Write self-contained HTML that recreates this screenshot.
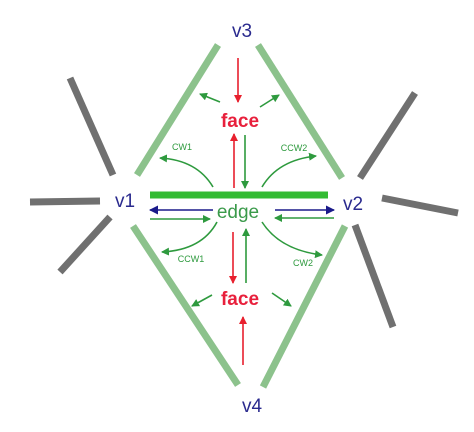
<!DOCTYPE html>
<html><head><meta charset="utf-8"><style>
html,body{margin:0;padding:0;background:#fff}
svg{display:block}
text{font-family:"Liberation Sans","DejaVu Sans",sans-serif}
</style></head><body>
<svg width="474" height="432" viewBox="0 0 474 432">
<defs>
<marker id="ag" markerWidth="8" markerHeight="8" refX="7" refY="4" orient="auto" markerUnits="userSpaceOnUse"><path d="M0,0 L8,4 L0,8 Z" fill="#2e9a3e"/></marker>
<marker id="ar" markerWidth="8" markerHeight="8" refX="7" refY="4" orient="auto" markerUnits="userSpaceOnUse"><path d="M0,0 L8,4 L0,8 Z" fill="#e8202e"/></marker>
<marker id="ab" markerWidth="9" markerHeight="9" refX="8" refY="4.5" orient="auto" markerUnits="userSpaceOnUse"><path d="M0,0 L9,4.5 L0,9 Z" fill="#1a1a8a"/></marker>
</defs>
<g stroke="#707070" stroke-width="7">
<line x1="70" y1="78" x2="113" y2="175"/>
<line x1="30" y1="202" x2="100" y2="201"/>
<line x1="60" y1="272" x2="110" y2="217"/>
<line x1="415" y1="93" x2="360" y2="178"/>
<line x1="382" y1="198" x2="458" y2="213"/>
<line x1="355" y1="225" x2="393" y2="327"/>
</g>
<g stroke="#8cc28c" stroke-width="7">
<line x1="218" y1="45" x2="137" y2="175"/>
<line x1="258" y1="45" x2="342" y2="178"/>
<line x1="133" y1="226" x2="238" y2="385"/>
<line x1="345" y1="226" x2="263" y2="387"/>
</g>
<line x1="150" y1="195" x2="328" y2="195" stroke="#33bb33" stroke-width="7"/>
<g font-size="19" fill="#2a2a8e" text-anchor="middle">
<text x="125" y="207">v1</text>
<text x="353" y="210">v2</text>
<text x="242" y="37">v3</text>
<text x="252" y="412">v4</text>
</g>
<text x="240" y="127" font-size="19" font-weight="bold" fill="#e8203c" text-anchor="middle">face</text>
<text x="240" y="305" font-size="19" font-weight="bold" fill="#e8203c" text-anchor="middle">face</text>
<text x="238" y="218" font-size="19" fill="#3a9a4a" text-anchor="middle">edge</text>
<g stroke-width="1.6" fill="none">
<line x1="213" y1="210" x2="150" y2="210" stroke="#1a1a8a" marker-end="url(#ab)"/>
<line x1="150" y1="219" x2="210" y2="219" stroke="#2e9a3e" marker-end="url(#ag)"/>
<line x1="275" y1="210" x2="334" y2="210" stroke="#1a1a8a" marker-end="url(#ab)"/>
<line x1="334" y1="218" x2="275" y2="218" stroke="#2e9a3e" marker-end="url(#ag)"/>
<line x1="238" y1="58" x2="238" y2="102" stroke="#e8202e" marker-end="url(#ar)"/>
<line x1="234" y1="188" x2="234" y2="134" stroke="#e8202e" marker-end="url(#ar)"/>
<line x1="245" y1="135" x2="245" y2="188" stroke="#2e9a3e" marker-end="url(#ag)"/>
<line x1="233" y1="232" x2="233" y2="283" stroke="#e8202e" marker-end="url(#ar)"/>
<line x1="246" y1="283" x2="246" y2="229" stroke="#2e9a3e" marker-end="url(#ag)"/>
<line x1="243" y1="365" x2="243" y2="317" stroke="#e8202e" marker-end="url(#ar)"/>
<line x1="220" y1="102" x2="200" y2="94" stroke="#2e9a3e" marker-end="url(#ag)"/>
<line x1="260" y1="107" x2="279" y2="95" stroke="#2e9a3e" marker-end="url(#ag)"/>
<line x1="212" y1="295" x2="192" y2="306" stroke="#2e9a3e" marker-end="url(#ag)"/>
<line x1="272" y1="293" x2="291" y2="306" stroke="#2e9a3e" marker-end="url(#ag)"/>
<path d="M213,187 Q197,160 160,158" stroke="#2e9a3e" marker-end="url(#ag)"/>
<path d="M262,187 Q278,160 316,156" stroke="#2e9a3e" marker-end="url(#ag)"/>
<path d="M217,222 Q202,250 162,252" stroke="#2e9a3e" marker-end="url(#ag)"/>
<path d="M262,222 Q280,250 322,255" stroke="#2e9a3e" marker-end="url(#ag)"/>
</g>
<g font-size="9" fill="#2e9a3e" text-anchor="middle">
<text x="182" y="150">CW1</text>
<text x="294" y="151">CCW2</text>
<text x="191" y="262">CCW1</text>
<text x="303" y="266">CW2</text>
</g>
</svg>
</body></html>
